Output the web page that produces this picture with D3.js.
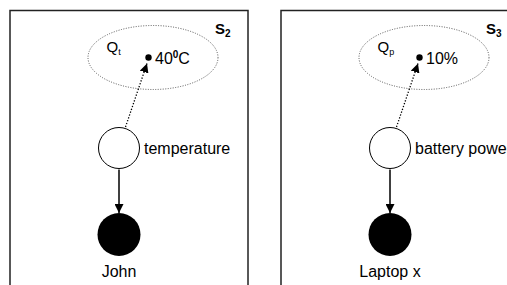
<!DOCTYPE html>
<meta charset="utf-8">
<style>
  body { margin: 0; background: #fff; }
  text { font-family: "Liberation Sans", Arial, sans-serif; }
</style>
<script src="https://d3js.org/d3.v7.min.js"></script>
<div id="chart"></div>
<script>
// situation boxes, one per panel
var situations = ["S", "S"];
var situationSubs = ["2", "3"];
// quality attached to each node
var qualityNames = ["Q", "Q"];
var qualitySubs = ["t", "p"];
var qualityValues = ["40", "10%"];
var valueSups = ["0", ""];
var valueTails = ["C", ""];
var nodeLabels = ["temperature", "battery power"];
var entityLabels = ["John", "Laptop x"];

var width = 507, height = 285;

var svg = d3.select("#chart").append("svg")
    .attr("width", width)
    .attr("height", height);

var defs = svg.append("defs");
defs.append("marker")
    .attr("id", "head")
    .attr("viewBox", "0 0 10 10")
    .attr("refX", 10).attr("refY", 5)
    .attr("markerWidth", 9).attr("markerHeight", 9)
    .attr("markerUnits", "userSpaceOnUse")
    .attr("orient", "auto")
  .append("path")
    .attr("d", "M0,0L10,5L0,10z")
    .attr("fill", "#000");

// panel left edge from panel index
var px = d3.scaleLinear().domain([0, 1]).range([10, 281]);
var idx = d3.range(situations.length);

var g = svg.selectAll("g.panel")
    .data(idx)
    .enter().append("g")
    .attr("class", "panel")
    .attr("transform", function(i) { return "translate(" + px(i) + ",10.5)"; });

// panel box
g.append("rect")
    .attr("x", 0).attr("y", 0)
    .attr("width", 238).attr("height", 300)
    .attr("fill", "none")
    .attr("stroke", "#222")
    .attr("stroke-width", 1.5);

// situation label
var st = g.append("text")
    .attr("x", 205).attr("y", 23)
    .style("font-size", "15px")
    .style("font-weight", "bold");
st.append("tspan").text(function(i) { return situations[i]; });
st.append("tspan").attr("dy", 3).style("font-size", "10px").text(function(i) { return situationSubs[i]; });

// quality space ellipse
g.append("ellipse")
    .attr("cx", 143).attr("cy", 47)
    .attr("rx", 65).attr("ry", 32)
    .attr("fill", "none")
    .attr("stroke", "#555")
    .attr("stroke-width", 1)
    .attr("stroke-dasharray", "1,1.5");

var qt = g.append("text")
    .attr("x", 96.5).attr("y", 41.5)
    .style("font-size", "15px");
qt.append("tspan").text(function(i) { return qualityNames[i]; });
qt.append("tspan").attr("dy", 3).style("font-size", "9px").text(function(i) { return qualitySubs[i]; });

// quality value point
g.append("circle")
    .attr("cx", 138.5).attr("cy", 47)
    .attr("r", 3.2)
    .attr("fill", "#000");

var vt = g.append("text")
    .attr("x", 145).attr("y", 53)
    .style("font-size", "16px");
vt.append("tspan").text(function(i) { return qualityValues[i]; });
vt.append("tspan").attr("dy", -6).style("font-size", "10px").style("font-weight", "bold")
    .text(function(i) { return valueSups[i]; });
vt.append("tspan").attr("dy", 6).text(function(i) { return valueTails[i]; });

// dotted arrow from node to value
g.append("line")
    .attr("x1", 115.5).attr("y1", 116.5)
    .attr("x2", 137).attr("y2", 53)
    .attr("stroke", "#000")
    .attr("stroke-width", 1.3)
    .attr("stroke-dasharray", "1.3,1.7")
    .attr("marker-end", "url(#head)");

// quality node
g.append("circle")
    .attr("cx", 109).attr("cy", 137.5)
    .attr("r", 20.5)
    .attr("fill", "#fff")
    .attr("stroke", "#000")
    .attr("stroke-width", 1);

g.append("text")
    .attr("x", 134).attr("y", 143)
    .style("font-size", "16px")
    .text(function(i) { return nodeLabels[i]; });

// solid arrow to entity
g.append("line")
    .attr("x1", 109).attr("y1", 159)
    .attr("x2", 109).attr("y2", 202.5)
    .attr("stroke", "#000")
    .attr("stroke-width", 1.5)
    .attr("marker-end", "url(#head)");

// entity node
g.append("circle")
    .attr("cx", 109).attr("cy", 224)
    .attr("r", 21.5)
    .attr("fill", "#000");

g.append("text")
    .attr("x", 109).attr("y", 266)
    .attr("text-anchor", "middle")
    .style("font-size", "16px")
    .text(function(i) { return entityLabels[i]; });
</script>
